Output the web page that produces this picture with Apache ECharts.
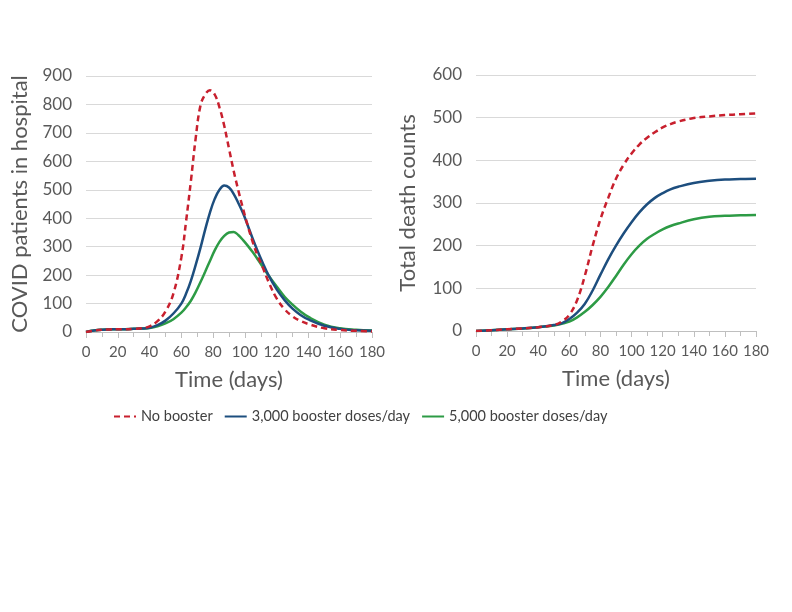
<!DOCTYPE html>
<html><head><meta charset="utf-8">
<script src="https://cdn.jsdelivr.net/npm/echarts@6/dist/echarts.min.js"></script>
<style>html,body{margin:0;padding:0;background:#fff}#c{width:792px;height:612px}</style>
</head><body><div id="c"></div>
<script>
// ---- data ----
var seriesNames = ['No booster', '3,000 booster doses/day', '5,000 booster doses/day'];
var hospDays = [0,5,10,15,20,25,30,35,40,45,50,55,60,63,66,69,72,75,78,81,84,87,90,93,96,99,102,105,108,111,115,120,125,130,135,140,150,160,170,180];
var hospNoBooster = [0,5,8,9,10,10,11,13,20,38,72,135,262,390,530,680,795,835,850,835,790,725,645,565,495,430,370,315,268,230,175,118,80,55,39,28,13,7,4,2];
var hosp3000 = [0,5,8,9,10,10,11,12,15,24,40,65,100,135,180,235,295,360,420,468,500,515,508,485,452,416,372,327,285,246,198,150,112,82,60,44,22,11,6,4];
var hosp5000 = [0,5,8,9,10,10,11,12,14,20,30,45,68,87,110,140,175,212,250,287,317,338,350,352,340,322,302,280,256,231,198,160,124,96,72,53,26,13,8,5];
var deathDays = [0,10,20,30,40,50,55,60,65,70,75,80,85,90,95,100,105,110,115,120,125,130,140,150,160,170,180];
var deathNoBooster = [0,2,4,6,9,14,22,38,72,130,200,262,312,357,390,416,437,453,466,477,485,491,499,503,506,508,510];
var death3000 = [0,2,4,6,9,14,18,28,43,64,95,132,168,200,229,255,278,297,312,323,332,338,347,352,355,356,357];
var death5000 = [0,2,4,6,9,13,17,22,32,45,61,80,103,129,156,180,200,216,228,238,246,252,262,268,270,271,272];
var xTicks = {min: 0, max: 180, step: 20};
var hospAxis = {min: 0, max: 900, step: 100};
var deathAxis = {min: 0, max: 600, step: 100};

function pairs(xs, ys) { return xs.map(function (x, i) { return [x, ys[i]]; }); }

var FONT = 'Lato';
var colors = ['#C8202E', '#1D4E7E', '#2D9B45'];

function xAxisDef(gi) {
  return {
    gridIndex: gi, type: 'value', min: xTicks.min, max: xTicks.max, interval: xTicks.step,
    name: 'Time (days)', nameLocation: 'middle', nameGap: 37,
    nameTextStyle: {fontFamily: FONT, fontSize: 22, color: '#595959'},
    axisLine: {show: true, lineStyle: {color: '#BFBFBF', width: 1}},
    axisTick: {show: true, length: 6, lineStyle: {color: '#BFBFBF'}},
    minorTick: {show: true, splitNumber: 2, length: 5, lineStyle: {color: '#BFBFBF'}},
    splitLine: {show: false},
    axisLabel: {fontFamily: FONT, fontSize: 15, color: '#595959', margin: 13,
                showMinLabel: true, showMaxLabel: true, hideOverlap: false}
  };
}
function yAxisDef(gi, ax, name, gap) {
  return {
    gridIndex: gi, type: 'value', min: ax.min, max: ax.max, interval: ax.step,
    name: name, nameLocation: 'middle', nameGap: gap,
    nameTextStyle: {fontFamily: FONT, fontSize: 22, color: '#595959'},
    axisLine: {show: false}, axisTick: {show: false},
    splitLine: {show: true, lineStyle: {color: '#D9D9D9', width: 1}},
    axisLabel: {fontFamily: FONT, fontSize: 17, color: '#595959', margin: 14}
  };
}
function line(name, gi, xs, ys, idx) {
  return {
    name: name, type: 'line', xAxisIndex: gi, yAxisIndex: gi,
    data: pairs(xs, ys), smooth: 0.4, showSymbol: false, symbol: 'none',
    lineStyle: {color: colors[idx], width: 2.5, type: idx === 0 ? [6, 4] : 'solid'},
    itemStyle: {color: colors[idx]}, z: 3 - idx
  };
}

var chart = echarts.init(document.getElementById('c'), null, {renderer: 'canvas'});
chart.setOption({
  animation: false,
  backgroundColor: '#fff',
  textStyle: {fontFamily: FONT},
  grid: [
    {left: 86, top: 76, width: 286, height: 256},
    {left: 476, top: 75, width: 280, height: 256}
  ],
  xAxis: [xAxisDef(0), xAxisDef(1)],
  yAxis: [
    yAxisDef(0, hospAxis, 'COVID patients in hospital', 55),
    yAxisDef(1, deathAxis, 'Total death counts', 57)
  ],
  legend: {
    top: 404, left: 108, itemWidth: 22, itemHeight: 10, itemGap: 11,
    data: seriesNames,
    itemStyle: {opacity: 0, borderWidth: 0},
    textStyle: {fontFamily: FONT, fontSize: 14.5, color: '#404040'}
  },
  series: [
    line(seriesNames[0], 0, hospDays, hospNoBooster, 0),
    line(seriesNames[1], 0, hospDays, hosp3000, 1),
    line(seriesNames[2], 0, hospDays, hosp5000, 2),
    line(seriesNames[0], 1, deathDays, deathNoBooster, 0),
    line(seriesNames[1], 1, deathDays, death3000, 1),
    line(seriesNames[2], 1, deathDays, death5000, 2)
  ]
});
</script></body></html>
